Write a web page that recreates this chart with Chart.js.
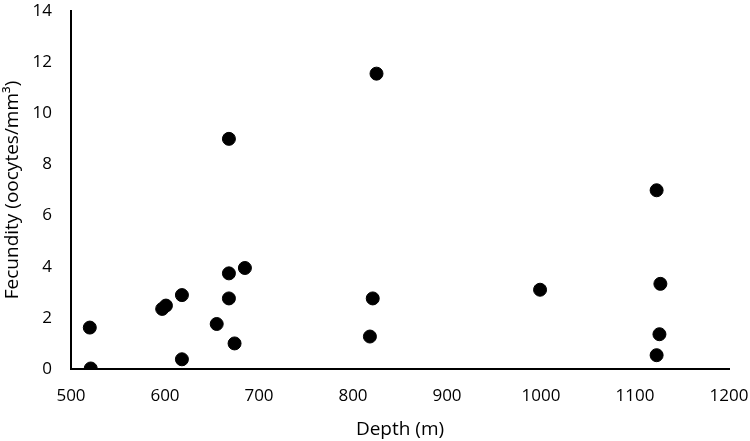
<!DOCTYPE html>
<html>
<head>
<meta charset="utf-8">
<script src="https://cdn.jsdelivr.net/npm/chart.js@4/dist/chart.umd.min.js"></script>
<style>
html,body{margin:0;padding:0;background:#fff;}
#wrap{width:750px;height:441px;}
</style>
</head>
<body>
<div id="wrap"><canvas id="c" width="750" height="441"></canvas></div>
<script>
const depth = [521, 520, 597, 601, 618, 618, 655, 668, 668, 685, 674, 668, 825, 821, 818, 999, 1123, 1127, 1126, 1123];
const fecundity = [0.02, 1.62, 2.35, 2.48, 2.89, 0.38, 1.76, 3.74, 2.76, 3.95, 1.0, 9.0, 11.55, 2.76, 1.27, 3.1, 6.99, 3.33, 1.36, 0.54];
const xTicks = [500, 600, 700, 800, 900, 1000, 1100, 1200];
const yTicks = [0, 2, 4, 6, 8, 10, 12, 14];

const pts = depth.map((d, i) => ({x: d, y: fecundity[i]}));
const tickFont = {family: '"Open Sans", sans-serif', size: 17};
const titleFont = {family: '"Open Sans", sans-serif', size: 19};

new Chart(document.getElementById('c'), {
  type: 'scatter',
  data: {datasets: [{data: pts, backgroundColor: '#000', borderColor: '#000', pointRadius: 6.5, pointHoverRadius: 6.5}]},
  options: {
    responsive: false,
    animation: false,
    layout: {padding: {left: 0, right: 21, top: 11, bottom: 0}},
    plugins: {legend: {display: false}, tooltip: {enabled: false}},
    scales: {
      x: {
        type: 'linear', min: 500, max: 1200,
        afterBuildTicks: s => { s.ticks = xTicks.map(v => ({value: v})); },
        afterFit: s => { s.height = 72; s.paddingLeft = 0; s.paddingRight = 0; },
        grid: {display: false, drawTicks: false},
        border: {color: '#000', width: 2},
        ticks: {color: '#000', font: tickFont, padding: 17, maxRotation: 0, callback: v => String(v)},
        title: {display: true, text: 'Depth (m)', color: '#000', font: titleFont, padding: {top: 1, bottom: 0}}
      },
      y: {
        type: 'linear', min: 0, max: 14,
        afterBuildTicks: s => { s.ticks = yTicks.map(v => ({value: v})); },
        afterFit: s => { s.width = 71; s.paddingTop = 0; s.paddingBottom = 0; },
        grid: {display: false, drawTicks: false},
        border: {color: '#000', width: 2},
        ticks: {color: '#000', font: tickFont, padding: 19, callback: v => String(v)},
        title: {display: true, text: 'Fecundity (oocytes/mm³)', color: '#000', font: titleFont, padding: {top: 1, bottom: 0}}
      }
    }
  }
});
</script>
</body>
</html>
